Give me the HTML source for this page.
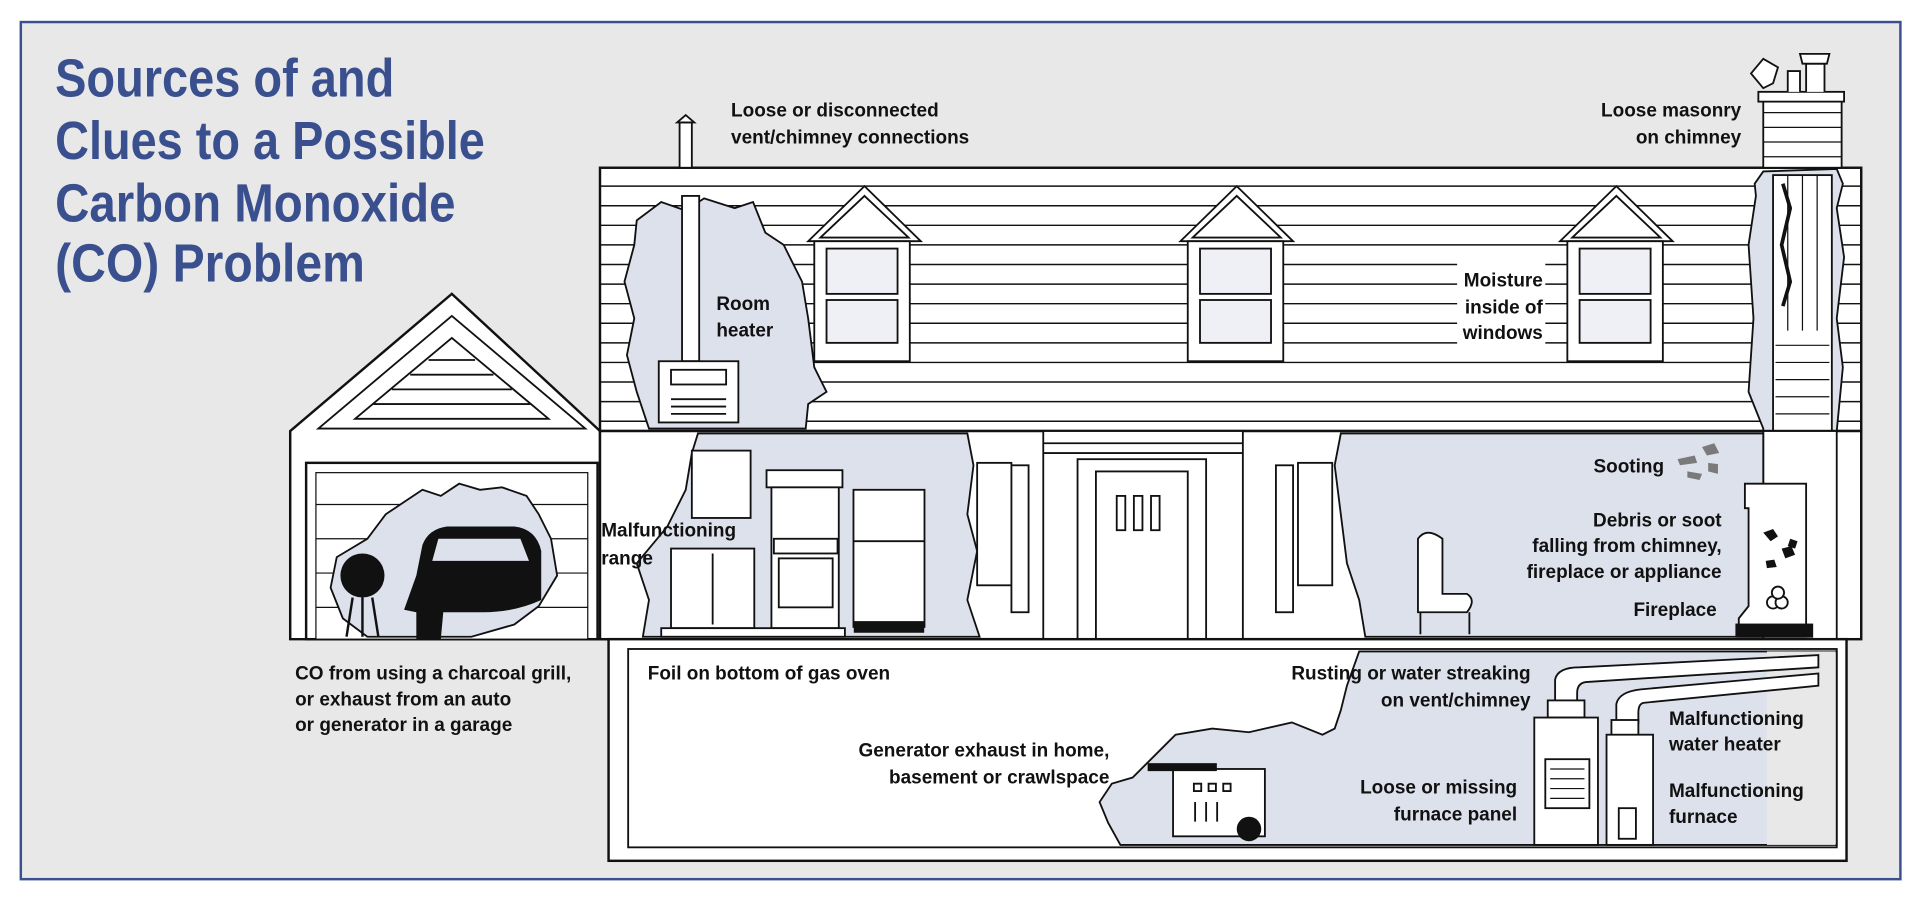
<!DOCTYPE html>
<html><head><meta charset="utf-8"><style>
html,body{margin:0;padding:0;background:#fff;}
svg{display:block}
text{font-family:"Liberation Sans Narrow","Liberation Sans",sans-serif;}
.l{font-size:15.5px;font-weight:bold;fill:#111;}
.r{text-anchor:end}
.t{font-size:44px;font-weight:bold;fill:#3a4f8e;}
</style></head><body>
<svg width="1920" height="900" viewBox="0 0 1568 735" preserveAspectRatio="none" xmlns="http://www.w3.org/2000/svg">
<rect x="0" y="0" width="1568" height="735" fill="#fff"/>
<rect x="17" y="18" width="1535" height="700" fill="#e8e8e9" stroke="#3b4f8f" stroke-width="2"/>
<g class="t"><text x="45" y="79" textLength="277" lengthAdjust="spacingAndGlyphs">Sources of and</text><text x="45" y="130" textLength="351" lengthAdjust="spacingAndGlyphs">Clues to a Possible</text><text x="45" y="181" textLength="327" lengthAdjust="spacingAndGlyphs">Carbon Monoxide</text><text x="45" y="230" textLength="253" lengthAdjust="spacingAndGlyphs">(CO) Problem</text></g>

<g stroke="#111" stroke-width="2" fill="#fff">
<path d="M237 352 L369 240 L490 352 L490 522 L497 522 L237 522 Z"/>
<path d="M260 350 L369 258 L478 350 Z" stroke-width="1.5"/>
<path d="M290 342 L369 276 L448 342 Z M305 330 H433 M320 318 H418 M335 306 H403 M350 294 H388" fill="none" stroke-width="1.5"/>
<rect x="250" y="378" width="238" height="144"/>
<rect x="258" y="386" width="222" height="136" stroke-width="1"/>
<path d="M258 412 H480 M258 440 H480 M258 468 H480 M258 496 H480" stroke-width="1"/>
<rect x="490" y="137" width="1030" height="215"/>
</g>
<g stroke="#111" stroke-width="1.2">
<path d="M490 152 H1440 M490 168 H1440 M490 184 H1440 M490 200 H1440 M490 216 H1440 M490 232 H1440 M490 248 H1440 M490 264 H1440 M490 280 H1440 M490 296 H1440 M490 312 H1440 M490 328 H1440 M490 344 H1440"/>
<path d="M1500 152 H1520 M1500 168 H1520 M1500 184 H1520 M1500 200 H1520 M1500 216 H1520 M1500 232 H1520 M1500 248 H1520 M1500 264 H1520 M1500 280 H1520 M1500 296 H1520 M1500 312 H1520 M1500 328 H1520 M1500 344 H1520"/>
</g>
<path d="M520 180 L540 165 L560 172 L575 162 L600 170 L615 165 L625 190 L640 200 L655 230 L660 260 L665 300 L675 320 L660 330 L658 350 L530 350 L520 320 L512 290 L518 260 L510 230 L518 200 Z" fill="#dde1ec" stroke="#111" stroke-width="1.5"/>
<g stroke="#111" stroke-width="1.5" fill="#fff">
<rect x="557" y="160" width="14" height="135"/>
<rect x="538" y="295" width="65" height="50"/>
<rect x="548" y="302" width="45" height="12"/>
<path d="M548 326 H593 M548 332 H593 M548 338 H593" />
<rect x="555" y="100" width="10" height="37"/>
<path d="M553 100 L560 94 L567 100 Z"/>
</g>
<g stroke="#111" stroke-width="1.5">
<g fill="#fff">
<path d="M660 197 L706 152 L752 197 Z"/><path d="M670 194 L706 160 L742 194 Z"/>
<rect x="665" y="197" width="78" height="98"/>
<path d="M964 197 L1010 152 L1056 197 Z"/><path d="M974 194 L1010 160 L1046 194 Z"/>
<rect x="970" y="197" width="78" height="98"/>
<path d="M1274 197 L1320 152 L1366 197 Z"/><path d="M1284 194 L1320 160 L1356 194 Z"/>
<rect x="1280" y="197" width="78" height="98"/>
</g>
<g fill="#eef0f6">
<rect x="675" y="203" width="58" height="37"/><rect x="675" y="245" width="58" height="35"/>
<rect x="980" y="203" width="58" height="37"/><rect x="980" y="245" width="58" height="35"/>
<rect x="1290" y="203" width="58" height="37"/><rect x="1290" y="245" width="58" height="35"/>
</g>
</g>
<rect x="1190" y="214" width="72" height="68" fill="#fff"/>
<g stroke="#111" stroke-width="1.5" fill="#fff">
<rect x="1440" y="80" width="64" height="57"/>
<rect x="1436" y="75" width="70" height="8"/>
<path d="M1460 75 V58 H1470 V75 M1475 75 V52 H1490 V75"/>
<path d="M1472 52 L1470 44 H1494 L1492 52 Z"/>
<path d="M1430 60 L1440 48 L1452 55 L1448 68 L1440 72 Z"/>
<path d="M1440 92 H1504 M1440 104 H1504 M1440 116 H1504 M1440 128 H1504" stroke-width="1"/>
<path d="M1433 150 L1440 140 L1500 138 L1505 150 L1500 170 L1506 210 L1500 260 L1505 300 L1500 352 L1500 410 L1440 410 L1440 350 L1428 320 L1432 260 L1428 200 L1434 160 Z" fill="#dde1ec"/>
<rect x="1448" y="143" width="48" height="267"/>
<path d="M1460 143 V270 M1472 143 V270 M1484 143 V270" stroke-width="1"/>
<path d="M1456 150 L1462 170 L1455 200 L1462 230 L1456 250" fill="none" stroke-width="3"/>
</g>
<g stroke="#111" stroke-width="1"><path d="M1450 282 H1494 M1450 296 H1494 M1450 310 H1494 M1450 324 H1494 M1450 338 H1494 M1450 352 H1494 M1450 366 H1494 M1450 380 H1494 M1450 394 H1494"/></g>

<rect x="490" y="352" width="1030" height="170" fill="#fff" stroke="#111" stroke-width="2"/>
<rect x="1440" y="352" width="60" height="170" fill="#fff" stroke="#111" stroke-width="1.5"/>
<path d="M570 354 L790 354 L795 380 L790 420 L798 450 L790 490 L800 520 L525 520 L530 490 L520 460 L545 430 L560 400 L565 370 Z" fill="#dde1ec" stroke="#111" stroke-width="1.5"/>
<path d="M1095 354 L1440 354 L1440 520 L1115 520 L1110 490 L1100 460 L1095 420 L1090 380 Z" fill="#dde1ec" stroke="#111" stroke-width="1.5"/>
<g stroke="#111" stroke-width="1.5" fill="#fff">
<rect x="565" y="368" width="48" height="55"/>
<rect x="548" y="448" width="68" height="65"/><path d="M582 452 V510"/>
<rect x="626" y="384" width="62" height="14"/>
<rect x="630" y="398" width="55" height="115"/>
<rect x="632" y="440" width="52" height="12"/>
<rect x="636" y="456" width="44" height="40"/>
<rect x="697" y="400" width="58" height="112"/>
<path d="M697 442 H755"/>
<rect x="698" y="508" width="56" height="8" fill="#111"/>
<rect x="540" y="513" width="150" height="7"/>
<rect x="852" y="352" width="163" height="170"/>
<path d="M852 362 H1015 M852 370 H1015"/>
<rect x="880" y="375" width="105" height="147"/>
<rect x="895" y="385" width="75" height="137"/>
<rect x="912" y="405" width="7" height="28"/><rect x="926" y="405" width="7" height="28"/><rect x="940" y="405" width="7" height="28"/>
<rect x="798" y="378" width="28" height="100"/><rect x="826" y="380" width="14" height="120"/>
<rect x="1060" y="378" width="28" height="100"/><rect x="1042" y="380" width="14" height="120"/>
<path d="M1158 440 Q1165 430 1178 440 L1178 485 L1198 485 Q1206 490 1198 500 L1158 500 Z"/>
<path d="M1160 500 V518 M1200 500 V518"/>
<path d="M1425 395 H1475 V520 H1420 V505 L1428 495 V415 L1425 415 Z"/>
<rect x="1418" y="510" width="62" height="10" fill="#111"/>
<circle cx="1448" cy="492" r="5"/><circle cx="1455" cy="492" r="5"/><circle cx="1452" cy="484" r="5"/>
</g>
<g fill="#111"><path d="M1440 435 l8 -3 l4 6 l-6 4z M1455 448 l8 -2 l3 7 l-8 3z M1442 458 l7 -1 l2 6 l-8 1z M1462 440 l6 2 l-2 6 l-6 -2z"/></g>
<g fill="#7a7a7a"><path d="M1370 375 l14 -3 l2 6 l-14 2z M1390 365 l10 -3 l4 8 l-10 2z M1378 385 l12 2 l-2 5 l-10 -2z M1395 378 l8 1 l0 8 l-8 -2z"/></g>
<path d="M300 440 L315 420 L330 410 L345 400 L360 405 L375 395 L392 400 L410 398 L430 405 L440 420 L450 440 L455 470 L440 495 L420 510 L385 520 L300 520 L280 505 L270 480 L275 455 Z" fill="#dde1ec" stroke="#111" stroke-width="1.5"/>
<path d="M340 470 L345 445 Q350 432 365 430 L420 430 Q438 432 442 450 L442 490 Q420 500 395 500 L362 500 L360 522 L340 522 L340 500 L330 498 Z" fill="#111"/>
<path d="M353 458 L358 440 L425 440 L432 458 Z" fill="#dde1ec"/>
<circle cx="296" cy="470" r="18" fill="#111"/>
<path d="M288 488 L283 520 M304 488 L309 520 M296 488 V520" stroke="#111" stroke-width="2"/>
<g stroke="#111" stroke-width="2" fill="#fff">
<rect x="497" y="522" width="1011" height="181"/>
<rect x="513" y="530" width="987" height="162" stroke-width="1.5"/>
</g>
<path d="M1110 532 L1500 532 L1500 690 L915 690 L905 672 L898 655 L908 640 L925 635 L945 615 L960 600 L990 595 L1020 598 L1055 590 L1080 600 L1090 595 L1095 580 L1100 560 Z" fill="#dde1ec" stroke="#111" stroke-width="1.5"/>
<rect x="1443" y="532" width="56" height="158" fill="#e8e8e9"/>
<g stroke="#111" stroke-width="1.5" fill="#fff">
<path d="M1270 572 V555 Q1272 545 1290 545 L1485 535 V545 L1295 557 Q1288 558 1288 566 V572 Z"/>
<path d="M1320 590 V575 Q1322 565 1340 563 L1485 550 V560 L1342 574 Q1338 575 1338 582 V590 Z"/>
<rect x="1264" y="572" width="30" height="14"/>
<rect x="1253" y="586" width="52" height="104"/>
<rect x="1262" y="620" width="36" height="40"/>
<path d="M1266 628 H1294 M1266 636 H1294 M1266 644 H1294 M1266 652 H1294" stroke-width="1"/>
<rect x="1316" y="588" width="22" height="14"/>
<rect x="1312" y="600" width="38" height="90"/>
<rect x="1322" y="660" width="14" height="25"/>
<rect x="958" y="628" width="75" height="55"/>
<rect x="938" y="624" width="55" height="5" fill="#111"/>
<path d="M975 640 h6 v6 h-6z M987 640 h6 v6 h-6z M999 640 h6 v6 h-6z"/>
<path d="M976 655 v16 M985 655 v16 M994 655 v16"/>
</g>
<circle cx="1020" cy="677" r="10" fill="#111"/>

<g class="l">
<text x="597" y="95">Loose or disconnected</text>
<text x="597" y="117">vent/chimney connections</text>
<text class="r" x="1422" y="95">Loose masonry</text>
<text class="r" x="1422" y="117">on chimney</text>
<text x="585" y="253">Room</text>
<text x="585" y="275">heater</text>
<text class="r" x="1260" y="234">Moisture</text>
<text class="r" x="1260" y="256">inside of</text>
<text class="r" x="1260" y="277">windows</text>
<text class="r" x="1359" y="386">Sooting</text>
<text class="r" x="1406" y="430">Debris or soot</text>
<text class="r" x="1406" y="451">falling from chimney,</text>
<text class="r" x="1406" y="472">fireplace or appliance</text>
<text class="r" x="1402" y="503">Fireplace</text>
<text x="491" y="438">Malfunctioning</text>
<text x="491" y="461">range</text>
<text x="241" y="555">CO from using a charcoal grill,</text>
<text x="241" y="576">or exhaust from an auto</text>
<text x="241" y="597">or generator in a garage</text>
<text x="529" y="555">Foil on bottom of gas oven</text>
<text class="r" x="1250" y="555">Rusting or water streaking</text>
<text class="r" x="1250" y="577">on vent/chimney</text>
<text class="r" x="906" y="618">Generator exhaust in home,</text>
<text class="r" x="906" y="640">basement or crawlspace</text>
<text class="r" x="1239" y="648">Loose or missing</text>
<text class="r" x="1239" y="670">furnace panel</text>
<text x="1363" y="592">Malfunctioning</text>
<text x="1363" y="613">water heater</text>
<text x="1363" y="651">Malfunctioning</text>
<text x="1363" y="672">furnace</text>
</g>
</svg>
</body></html>
